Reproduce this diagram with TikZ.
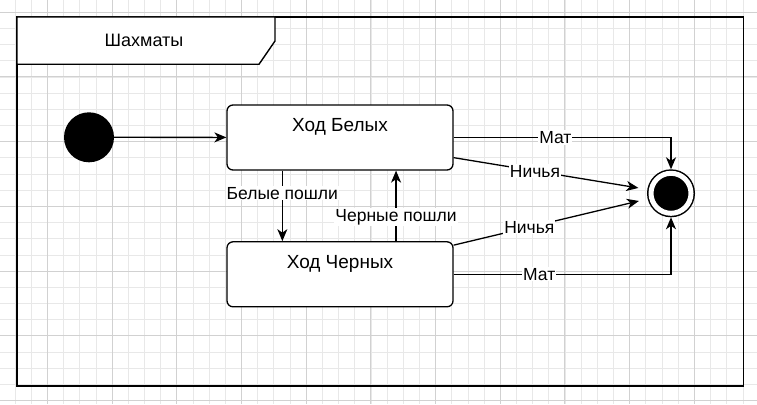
\documentclass[tikz,border=0pt]{standalone}
\usepackage{fontspec}
\setmainfont{Liberation Sans}
\usetikzlibrary{arrows.meta,calc,positioning}

\begin{document}
\begin{tikzpicture}[x=1pt,y=-1pt,>={Stealth[length=12pt,width=10pt,inset=3.5pt]},
  font=\fontsize{17.5}{20}\selectfont,
  minorln/.style={draw=black!9,line width=0.6pt},
  majorln/.style={draw=black!18,line width=0.9pt},
  stbox/.style={draw,rounded corners=6pt,fill=white,line width=1.3pt,minimum width=226pt,minimum height=65pt,inner sep=0pt},
  sttext/.style={anchor=base,yshift=-27.5pt,font=\fontsize{19}{22}\selectfont},
  conn/.style={->,line width=1.3pt},
  lbl/.style={fill=white,inner sep=1pt}]
  \useasboundingbox (0,0) rectangle (757,404);
  \fill[white] (0,0) rectangle (757,404);
  \foreach \k in {-2,...,43} \draw[minorln] ({47.3+\k*16.175},0) -- ({47.3+\k*16.175},404);
  \foreach \k in {0,...,24} \draw[minorln] (0,{12.2+\k*16.175}) -- (757,{12.2+\k*16.175});
  \foreach \k in {0,...,10} \draw[majorln] ({47.3+\k*64.7},0) -- ({47.3+\k*64.7},404);
  \foreach \k in {0,...,6} \draw[majorln] (0,{12.2+\k*64.7}) -- (757,{12.2+\k*64.7});
  \draw[line width=1.6pt] (17,17) rectangle (743.5,386);
  \draw[line width=1.4pt,fill=white] (17,17) -- (275,17) -- (275,41) -- (259,64.3) -- (17,64.3) -- cycle;
  \node[font=\fontsize{18}{21}\selectfont] (ttl) at (144,40) {Шахматы};
  \node[circle,fill=black,minimum size=50pt,inner sep=0pt] (ini) at (89,137.3) {};
  \node[stbox,label={[sttext]north:Ход Белых}] (wb) at (340,137.5) {};
  \node[stbox,label={[sttext]north:Ход Черных}] (wc) at (340,274.3) {};
  \node[circle,fill=black,draw=black,double=white,double distance=5pt,line width=1.5pt,minimum size=40pt,inner sep=0pt,outer sep=4pt] (fin) at (671,193.3) {};
  \draw[conn] (ini) -- (wb);
  \draw[conn] ([xshift=56pt]wb.south west) -- node[lbl,pos=0.32] {Белые пошли} ([xshift=56pt]wc.north west);
  \draw[conn] ([xshift=169.7pt]wc.north west) -- node[lbl,pos=0.34] {Черные пошли} ([xshift=169.7pt]wb.south west);
  \draw[conn] (wb.east) -| node[lbl,pos=0.234] {Мат} (fin.north);
  \draw[conn,shorten >=9pt] ([yshift=13pt]wb.south east) -- node[lbl,pos=0.42] {Ничья} (fin);
  \draw[conn,shorten >=9pt] ([yshift=-4pt]wc.north east) -- node[lbl,pos=0.39] {Ничья} (fin);
  \draw[conn] (wc.east) -| node[lbl,pos=0.197] {Мат} (fin.south);
\end{tikzpicture}
\end{document}
